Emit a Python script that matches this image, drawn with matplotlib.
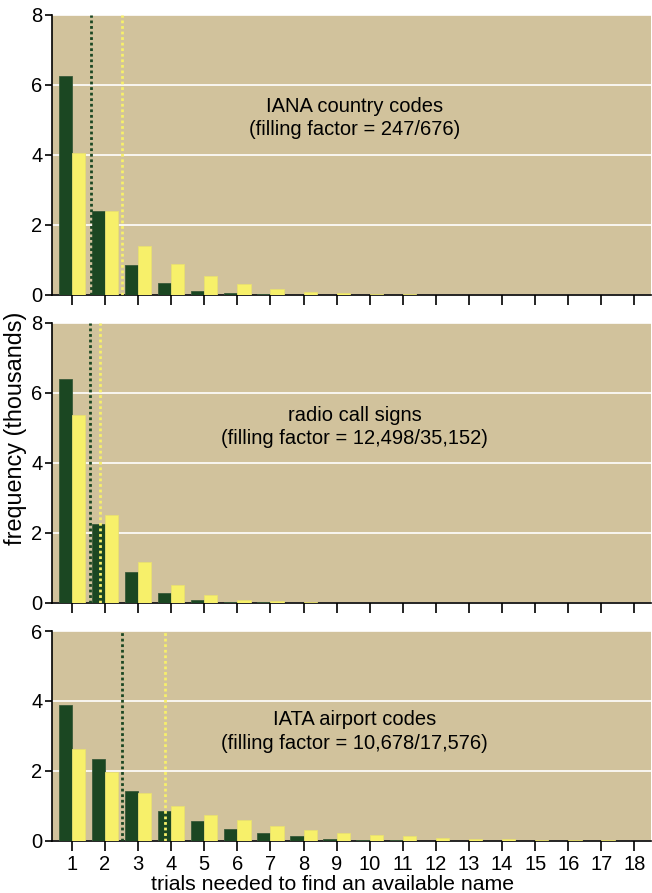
import matplotlib
matplotlib.use("Agg")
import matplotlib.pyplot as plt
import numpy as np

plt.rcParams['font.family'] = ['Liberation Sans', 'DejaVu Sans']

trials = list(range(1, 19))

iana_dark = [6.26, 2.40, 0.86, 0.34, 0.11, 0.05, 0.02, 0.01, 0.004, 0.002, 0.001, 0, 0, 0, 0, 0, 0, 0]
iana_yellow = [4.06, 2.40, 1.40, 0.89, 0.54, 0.31, 0.18, 0.10, 0.06, 0.035, 0.02, 0.01, 0.005, 0.003, 0.002, 0.001, 0, 0]
iana_mean_dark = 1.57
iana_mean_yellow = 2.51

radio_dark = [6.41, 2.27, 0.88, 0.29, 0.10, 0.03, 0.02, 0.005, 0.002, 0.001, 0, 0, 0, 0, 0, 0, 0, 0]
radio_yellow = [5.37, 2.52, 1.17, 0.52, 0.23, 0.10, 0.05, 0.02, 0.01, 0.005, 0.002, 0.001, 0, 0, 0, 0, 0, 0]
radio_mean_dark = 1.55
radio_mean_yellow = 1.86

iata_dark = [3.89, 2.35, 1.44, 0.87, 0.56, 0.34, 0.22, 0.14, 0.06, 0.03, 0.015, 0.008, 0.005, 0.003, 0.002, 0.001, 0.001, 0]
iata_yellow = [2.62, 1.98, 1.37, 1.00, 0.74, 0.60, 0.44, 0.31, 0.23, 0.17, 0.14, 0.09, 0.07, 0.05, 0.035, 0.025, 0.015, 0.01]
iata_mean_dark = 2.52
iata_mean_yellow = 3.81

titles = ["IANA country codes\n(filling factor = 247/676)",
          "radio call signs\n(filling factor = 12,498/35,152)",
          "IATA airport codes\n(filling factor = 10,678/17,576)"]
ymaxes = [8, 8, 6]

DARK = '#1b4722'
YELLOW = '#f7f06a'
BG = '#d1c29c'

fig = plt.figure(figsize=(6.52, 8.93), dpi=100)
H = 893.0
W = 652.0
panels = [(15, 295), (323, 603), (631, 841)]
left = 52 / W
right = 651 / W

datasets = [(iana_dark, iana_yellow, iana_mean_dark, iana_mean_yellow),
            (radio_dark, radio_yellow, radio_mean_dark, radio_mean_yellow),
            (iata_dark, iata_yellow, iata_mean_dark, iata_mean_yellow)]
text_y = [0.632, 0.629, 0.521]

x = np.array(trials)
axes = []
for i, ((top, bot), (d, yv, md, my)) in enumerate(zip(panels, datasets)):
    ax = fig.add_axes([left, 1 - bot / H, right - left, (bot - top) / H])
    axes.append(ax)
    ax.set_facecolor(BG)
    ax.bar(x - 0.2, d, width=0.4, color=DARK, edgecolor='#3a5a3a', linewidth=0.6, zorder=3)
    ax.bar(x + 0.2, yv, width=0.4, color=YELLOW, edgecolor='#e8e070', linewidth=0.6, zorder=3)
    ax.axvline(md, color=DARK, linestyle=(0, (1, 1)), linewidth=2, zorder=4)
    ax.axvline(my, color=YELLOW, linestyle=(0, (1, 1)), linewidth=2, zorder=4)
    ax.set_xlim(0.4, 18.5)
    ax.set_ylim(0, ymaxes[i])
    ax.set_yticks(range(0, ymaxes[i] + 1, 2))
    ax.grid(axis='y', color='white', linewidth=1.2, zorder=1)
    ax.set_axisbelow(True)
    ax.set_xticks(trials)
    ax.spines['top'].set_visible(False)
    ax.spines['right'].set_visible(False)
    ax.spines['left'].set_linewidth(1.2)
    ax.spines['bottom'].set_linewidth(1.2)
    ax.tick_params(axis='x', length=7, width=1.2, labelsize=14.5, pad=3)
    ax.tick_params(axis='y', length=5, width=1.2, labelsize=14.5, pad=2)
    if i < 2:
        ax.set_xticklabels([])
    ax.text(0.505, text_y[i], titles[i], transform=ax.transAxes, ha='center', va='center',
            fontsize=14.5, linespacing=1.3)

fig.text(333 / W, 1 - 890 / H, "trials needed to find an available name",
         ha='center', va='baseline', fontsize=15.3)
fig.text(16 / W, 1 - 428 / H, "frequency (thousands)", rotation=90, ha='center', va='center', fontsize=16.8)

fig.savefig("out.png", dpi=100)
